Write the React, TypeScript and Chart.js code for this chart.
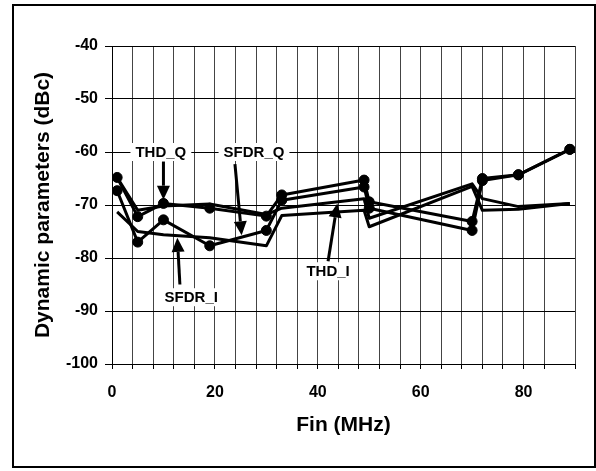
import React, { useEffect, useRef } from 'react';
import { Chart, registerables } from 'chart.js';

Chart.register(...registerables);

// Input frequency (MHz)
const FREQ = [1, 5, 10, 19, 30, 33, 49, 50, 70, 72, 79, 89];
// Dynamic parameters (dBc)
const THD_Q = [-64.8, -72.2, -69.7, -70.6, -72.1, -68.1, -65.3, -69.4, -73.1, -65.0, -64.3, -59.5];
const SFDR_Q = [-67.3, -77.0, -72.8, -77.7, -74.8, -69.1, -66.6, -70.6, -74.8, -65.4, -64.3, -59.5];
const THD_I = [-64.8, -71.0, -70.2, -69.8, -71.8, -70.6, -68.8, -72.5, -66.0, -68.8, -70.3, -69.7];
const SFDR_I = [-71.3, -75.0, -75.6, -76.2, -77.7, -72.0, -71.0, -74.1, -66.5, -71.0, -70.8, -69.7];

const X_MIN = 0;
const X_MAX = 90;
const X_GRID_STEP = 4;
const X_LABELS = [0, 20, 40, 60, 80];
const Y_MIN = -100;
const Y_MAX = -40;
const Y_STEP = 10;

// Callout labels with arrows (data coordinates)
const CALLOUT_TEXT = ['THD_Q', 'SFDR_Q', 'SFDR_I', 'THD_I'];
const CALLOUT_LABEL_X = [9.5, 27.6, 15.4, 42.0];
const CALLOUT_LABEL_Y = [-60, -60, -87.4, -82.5];
const CALLOUT_FROM_X = [10, 23.9, 13.2, 42.0];
const CALLOUT_FROM_Y = [-61.8, -62.3, -85.0, -80.6];
const CALLOUT_TO_X = [10, 25.2, 12.7, 43.8];
const CALLOUT_TO_Y = [-69.0, -75.7, -76.2, -69.7];

const FONT = '"Liberation Sans", Arial, Helvetica, sans-serif';

const toPoints = (ys: number[]) => FREQ.map((x, i) => ({ x, y: ys[i] }));

const calloutPlugin = {
  id: 'callouts',
  afterDatasetsDraw(chart: any) {
    const { ctx, scales } = chart;
    const xs = scales.x;
    const ys = scales.y;
    ctx.save();
    for (let i = 0; i < CALLOUT_TEXT.length; i++) {
      const x0 = xs.getPixelForValue(CALLOUT_FROM_X[i]);
      const y0 = ys.getPixelForValue(CALLOUT_FROM_Y[i]);
      const x1 = xs.getPixelForValue(CALLOUT_TO_X[i]);
      const y1 = ys.getPixelForValue(CALLOUT_TO_Y[i]);
      const ang = Math.atan2(y1 - y0, x1 - x0);
      const headLen = 14;
      const headW = 6.5;
      const bx = x1 - headLen * Math.cos(ang);
      const by = y1 - headLen * Math.sin(ang);
      ctx.strokeStyle = '#000';
      ctx.fillStyle = '#000';
      ctx.lineWidth = 3;
      ctx.lineCap = 'butt';
      ctx.beginPath();
      ctx.moveTo(x0, y0);
      ctx.lineTo(bx, by);
      ctx.stroke();
      ctx.beginPath();
      ctx.moveTo(x1, y1);
      ctx.lineTo(bx + headW * Math.sin(ang), by - headW * Math.cos(ang));
      ctx.lineTo(bx - headW * Math.sin(ang), by + headW * Math.cos(ang));
      ctx.closePath();
      ctx.fill();

      ctx.font = `bold 15px ${FONT}`;
      const w = ctx.measureText(CALLOUT_TEXT[i]).width;
      const lx = xs.getPixelForValue(CALLOUT_LABEL_X[i]);
      const ly = ys.getPixelForValue(CALLOUT_LABEL_Y[i]);
      ctx.fillStyle = '#fff';
      ctx.fillRect(lx - w / 2 - 5, ly - 9, w + 10, 18);
      ctx.fillStyle = '#000';
      ctx.textAlign = 'center';
      ctx.textBaseline = 'middle';
      ctx.fillText(CALLOUT_TEXT[i], lx, ly + 1);
    }
    ctx.restore();
  },
};

const lineStyle = (marked: boolean) => ({
  borderColor: '#000',
  backgroundColor: '#000',
  borderWidth: 3,
  pointRadius: marked ? 5 : 0,
  pointHoverRadius: marked ? 5 : 0,
  pointBackgroundColor: '#000',
  pointBorderColor: '#000',
  pointBorderWidth: 1,
  tension: 0,
  fill: false,
  borderJoinStyle: 'round' as const,
});

export default function App() {
  const canvasRef = useRef<HTMLCanvasElement | null>(null);

  useEffect(() => {
    if (!canvasRef.current) return;
    const chart = new Chart(canvasRef.current, {
      type: 'line',
      data: {
        datasets: [
          { label: 'THD_Q', data: toPoints(THD_Q), ...lineStyle(true) },
          { label: 'SFDR_Q', data: toPoints(SFDR_Q), ...lineStyle(true) },
          { label: 'THD_I', data: toPoints(THD_I), ...lineStyle(false) },
          { label: 'SFDR_I', data: toPoints(SFDR_I), ...lineStyle(false) },
        ],
      },
      options: {
        animation: false,
        responsive: false,
        maintainAspectRatio: false,
        layout: { padding: { left: 30.4, top: 46, right: 21, bottom: 33.4 } },
        plugins: {
          legend: { display: false },
          tooltip: { enabled: false },
        },
        scales: {
          x: {
            type: 'linear',
            min: X_MIN,
            max: X_MAX,
            ticks: {
              stepSize: X_GRID_STEP,
              autoSkip: false,
              maxRotation: 0,
              padding: 14,
              color: '#000',
              font: { family: FONT, size: 16, weight: 'bold' },
              callback: (v: any) => (X_LABELS.includes(Number(v)) ? String(v) : ''),
            },
            grid: { color: '#444', lineWidth: 1, tickLength: 5, tickColor: '#000' },
            border: { color: '#000', width: 1 },
            title: {
              display: true,
              text: 'Fin (MHz)',
              color: '#000',
              font: { family: FONT, size: 21, weight: 'bold' },
              padding: 0,
            },
            afterFit: (s: any) => {
              s.height = 73.6;
            },
          },
          y: {
            min: Y_MIN,
            max: Y_MAX,
            ticks: {
              stepSize: Y_STEP,
              padding: 7,
              color: '#000',
              font: { family: FONT, size: 16, weight: 'bold' },
            },
            grid: { color: '#000', lineWidth: 1, tickLength: 7, tickColor: '#000' },
            border: { color: '#000', width: 1 },
            title: {
              display: true,
              text: 'Dynamic parameters (dBc)',
              color: '#000',
              font: { family: FONT, size: 21, weight: 'bold' },
              padding: 0,
            },
            afterFit: (s: any) => {
              s.width = 81.6;
            },
          },
        },
      },
      plugins: [calloutPlugin],
    });
    return () => chart.destroy();
  }, []);

  return (
    <div style={{ position: 'fixed', left: 0, top: 0, width: 596, height: 471, background: '#fff' }}>
      <canvas ref={canvasRef} width={596} height={471} style={{ position: 'absolute', left: 0, top: 0 }} />
      <div
        style={{
          position: 'absolute',
          left: 12,
          top: 4,
          width: 580,
          height: 460,
          border: '2px solid #000',
          pointerEvents: 'none',
        }}
      />
    </div>
  );
}
